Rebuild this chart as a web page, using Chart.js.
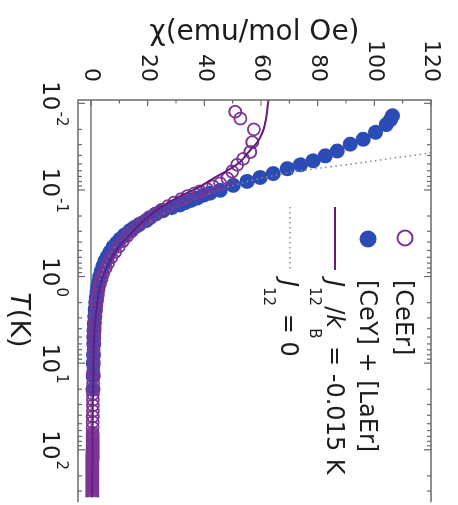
<!DOCTYPE html>
<html>
<head>
<meta charset="utf-8">
<script src="https://cdn.jsdelivr.net/npm/chart.js@4.4.1/dist/chart.umd.min.js"></script>
<style>
  html, body { margin:0; padding:0; background:#fff; overflow:hidden; }
  /* la figura original va girada 90 grados */
  #wrap { position:absolute; left:0; top:0; width:505px; height:458px;
          transform-origin:0 0; transform:translate(458px,0) rotate(90deg); }
</style>
</head>
<body>
<div id="wrap"><canvas id="chiChart" width="505" height="458"></canvas></div>
<script>
// [CeEr]  (circulos abiertos)
const tCeEr = [0.0125,0.015,0.02,0.0281,0.0365,0.0438,0.0512,0.0613,0.0736,0.0839,0.091,0.098,0.104,0.11,0.118,0.128,0.14,0.154,0.17,0.19,
  0.21,0.235,0.265,0.3,0.34,0.39,0.45,0.52,0.6,0.7,0.8,0.92,1.06,1.22,1.4,1.62,1.87,2.15,2.5,2.9,
  3.35,3.9,4.5,5.2,6,7,8.1,9.4,10.9,12.6,14.6,17,19.7,22.8,26.5,30.7,35.6,41.3,48,55.5,
  64,68,71.4,75,78.7,82.7,86.8,91,95.7,100.5,105.5,110.8,116.3,122,128,134.7,141.4,148.5,156,163.7,
  172,180.5,189.5,199,209,219.5,230.5,242,254,267,280,294,309,324,340,357];
const chiCeEr = [50.9,52.7,57.5,56.9,56.2,53.7,51.6,49.8,48.1,45.6,43.1,41.0,38.5,36.5,34.0,31.8,29.3,27.2,24.8,22.5,
  20.3,18.2,16.2,14.3,12.7,11.2,9.8,8.5,7.2,6.0,5.1,4.3,3.7,3.1,2.7,2.4,2.1,1.9,1.7,1.5,
  1.35,1.25,1.15,1.05,1.0,0.95,0.9,0.85,0.8,0.78,0.75,0.72,0.7,0.68,0.66,0.64,0.62,0.6,0.58,0.57,
  0.56,0.55,0.55,0.54,0.54,0.54,0.53,0.53,0.53,0.52,0.52,0.52,0.51,0.51,0.51,0.5,0.5,0.5,0.5,0.49,
  0.49,0.49,0.49,0.48,0.48,0.48,0.48,0.47,0.47,0.47,0.47,0.46,0.46,0.46,0.46,0.45];

// [CeY] + [LaEr]  (circulos llenos)
const tSuma = [0.0139,0.0154,0.0176,0.0216,0.026,0.0296,0.0355,0.0404,0.0461,0.0512,
  0.0568,0.0647,0.0718,0.0796,0.0885,0.101,0.109,0.115,0.124,0.132,
  0.14,0.149,0.16,0.174,0.19,0.208,0.226,0.25,0.27,0.294,
  0.33,0.37,0.41,0.457,0.52,0.59,0.67,0.76,0.87,1,
  1.15,1.32,1.5,1.75,2,2.4,2.9,3.5,4.2,5,6,8,10,14,20];
const chiSuma = [106.4,105.7,104.2,100.4,96.1,91.5,86.9,82.7,78.4,73.9,
  69.3,64.3,59.7,55.1,50.2,45.6,42,39.8,37.5,35.3,
  33.2,31.4,28.5,25.4,22.8,20.9,19.5,17,15.3,13.8,
  11.8,10.2,9,7.8,6.7,5.7,4.9,4.2,3.6,3.1,
  2.7,2.4,2.1,1.85,1.65,1.45,1.3,1.15,1.05,1,0.95,0.88,0.82,0.75,0.7];

// ajuste J12/kB = -0.015 K
const tAjuste = [0.00915,0.012,0.0167,0.0205,0.0247,0.0285,0.032,0.0384,0.0473,0.0598,0.0736,0.0957,0.118,0.153,0.209,
  0.326,0.423,0.55,0.7,1,1.5,2.2,3.2,5,8,15,30,60,120,360];
const chiAjuste = [62.6,62.2,61.5,60.8,59.7,58.6,57.2,55.1,52.7,48.1,43.1,37.5,31.4,25.4,19.8,
  13.8,10.5,8.0,6.3,4.2,2.8,2.0,1.5,1.1,0.9,0.75,0.65,0.55,0.5,0.45];

// J12 = 0
const tLibre = [0.0336,0.0384,0.0437,0.0499,0.0568,0.0647,0.0736,0.0839,0.101,0.124,0.161,0.22,0.309,0.457,0.77,1.48,3.68,13.6,64.9,353];
const chiLibre = [126.9,117.3,104.9,92.6,79.5,68.2,59.7,52.7,44.9,37.8,30,21.9,14.8,8.5,4.6,2.5,1.4,0.7,0.55,0.5];

const chiTicks = [0,20,40,60,80,100,120];
const decadas = [-2,-1,0,1,2];

const FUENTE = '"DejaVu Sans", sans-serif';
const MORADO = '#7a3595';
const MORADO_OSC = '#661c7c';
const AZUL = '#2b4cb5';
const GRIS = '#8c8c8c';
const NEGRO = '#1c1c1c';

const puntos = (xs, ys) => xs.map((x, i) => ({ x: x, y: ys[i] }));

function texto(ctx, partes, x, yBase) {
  partes.forEach(p => {
    const size = p.sub ? 15 : 24;
    ctx.font = (p.it ? 'italic ' : '') + size + 'px ' + FUENTE;
    ctx.fillText(p.t, x, yBase + (p.sub ? 17 : 0));
    x += ctx.measureText(p.t).width;
  });
}

const marcoPlugin = {
  id: 'marco',
  beforeDatasetsDraw(chart) {
    const { ctx, chartArea: a, scales: { y } } = chart;
    const y0 = y.getPixelForValue(0);
    ctx.save();
    ctx.strokeStyle = '#7a7a7a'; ctx.lineWidth = 1.5;
    ctx.beginPath(); ctx.moveTo(a.left, y0); ctx.lineTo(a.right, y0); ctx.stroke();
    ctx.restore();
  },
  afterDraw(chart) {
    const { ctx, chartArea: a, scales: { x, y } } = chart;
    ctx.save();
    ctx.strokeStyle = '#6a6a6a'; ctx.lineWidth = 1.5;
    ctx.beginPath();
    ctx.moveTo(a.right + 5, a.top); ctx.lineTo(a.left, a.top);
    ctx.lineTo(a.left, a.bottom); ctx.lineTo(a.right + 5, a.bottom);
    ctx.stroke();

    // ticks hacia dentro
    ctx.lineWidth = 1.2;
    ctx.beginPath();
    for (let v = 0; v <= 120; v += 10) {
      const py = y.getPixelForValue(v);
      ctx.moveTo(a.left, py); ctx.lineTo(a.left + (v % 20 === 0 ? 6 : 3.5), py);
    }
    for (let d = -3; d <= 2; d++) {
      for (let k = 1; k <= 9; k++) {
        const v = k * Math.pow(10, d);
        if (v < x.min || v > x.max) continue;
        const px = x.getPixelForValue(v);
        const len = k === 1 ? 7 : 4;
        ctx.moveTo(px, a.bottom); ctx.lineTo(px, a.bottom - len);
        ctx.moveTo(px, a.top); ctx.lineTo(px, a.top + len);
      }
    }
    ctx.stroke();

    // etiquetas del eje T
    ctx.fillStyle = NEGRO;
    ctx.textBaseline = 'alphabetic';
    decadas.forEach(d => {
      const px = x.getPixelForValue(Math.pow(10, d));
      ctx.font = '23px ' + FUENTE;
      const w1 = ctx.measureText('10').width;
      ctx.font = '15px ' + FUENTE;
      const w2 = ctx.measureText(String(d)).width;
      const x0 = px - (w1 + w2) / 2;
      ctx.font = '23px ' + FUENTE;
      ctx.fillText('10', x0, 415);
      ctx.font = '15px ' + FUENTE;
      ctx.fillText(String(d), x0 + w1 + 1, 401);
    });

    // titulo T(K)
    ctx.font = 'italic 27px ' + FUENTE;
    const wT = ctx.measureText('T').width;
    ctx.font = '27px ' + FUENTE;
    const wK = ctx.measureText('(K)').width;
    const xt = 320 - (wT + wK) / 2;
    ctx.font = 'italic 27px ' + FUENTE;
    ctx.fillText('T', xt, 447);
    ctx.font = '27px ' + FUENTE;
    ctx.fillText('(K)', xt + wT, 447);

    // leyenda
    ctx.lineWidth = 2;
    ctx.strokeStyle = MORADO;
    ctx.beginPath(); ctx.arc(238, 53, 7.5, 0, Math.PI * 2); ctx.stroke();
    ctx.fillStyle = AZUL;
    ctx.beginPath(); ctx.arc(239, 90, 8.5, 0, Math.PI * 2); ctx.fill();
    ctx.strokeStyle = MORADO_OSC;
    ctx.beginPath(); ctx.moveTo(207, 123); ctx.lineTo(270, 123); ctx.stroke();
    ctx.strokeStyle = GRIS; ctx.lineWidth = 1.6; ctx.setLineDash([1.5, 3.5]);
    ctx.beginPath(); ctx.moveTo(207, 168); ctx.lineTo(270, 168); ctx.stroke();
    ctx.setLineDash([]);

    ctx.fillStyle = NEGRO;
    texto(ctx, [{ t: '[CeEr]' }], 280, 62);
    texto(ctx, [{ t: '[CeY] + [LaEr]' }], 280, 98);
    texto(ctx, [{ t: 'J', it: true }, { t: '12', sub: true }, { t: '/' }, { t: 'k', it: true }, { t: 'B', sub: true }, { t: ' = -0.015 K' }], 280, 131);
    texto(ctx, [{ t: 'J', it: true }, { t: '12', sub: true }, { t: ' = 0' }], 280, 177);
    ctx.restore();
  }
};

const ctx = document.getElementById('chiChart').getContext('2d');

const chiChart = new Chart(ctx, {
  type: 'scatter',
  data: {
    datasets: [
      { label: 'J12/kB = -0.015 K', data: puntos(tAjuste, chiAjuste), showLine: true, pointRadius: 0,
        borderColor: MORADO_OSC, borderWidth: 2, cubicInterpolationMode: 'monotone' },
      { label: '[CeEr]', data: puntos(tCeEr, chiCeEr), pointRadius: 6, pointBorderWidth: 1.8,
        pointBorderColor: MORADO, pointBackgroundColor: 'rgba(0,0,0,0)' },
      { label: 'J12 = 0', data: puntos(tLibre, chiLibre), showLine: true, pointRadius: 0,
        borderColor: GRIS, borderWidth: 1.6, borderDash: [1.5, 3.5], cubicInterpolationMode: 'monotone' },
      { label: '[CeY] + [LaEr]', data: puntos(tSuma, chiSuma), pointRadius: 7.5, pointBorderWidth: 0,
        pointBackgroundColor: AZUL }
    ]
  },
  options: {
    responsive: false,
    animation: false,
    layout: { padding: { top: 27, left: 0, right: 0, bottom: 0 } },
    plugins: { legend: { display: false }, tooltip: { enabled: false } },
    scales: {
      x: {
        type: 'logarithmic', min: 0.00915, max: 353,
        grid: { display: false }, border: { display: false },
        ticks: { display: false },
        afterFit: s => { s.height = 78; }
      },
      y: {
        min: -4.6, max: 120,
        afterBuildTicks: s => { s.ticks = chiTicks.map(v => ({ value: v })); },
        grid: { display: false }, border: { display: false },
        ticks: { font: { family: FUENTE, size: 22 }, color: NEGRO, padding: 10 },
        title: { display: true, text: 'χ(emu/mol Oe)', color: NEGRO,
                 font: { family: FUENTE, size: 28 }, padding: { top: 16, bottom: 0 } },
        afterFit: s => { s.width = 100; }
      }
    }
  },
  plugins: [marcoPlugin]
});
</script>
</body>
</html>
